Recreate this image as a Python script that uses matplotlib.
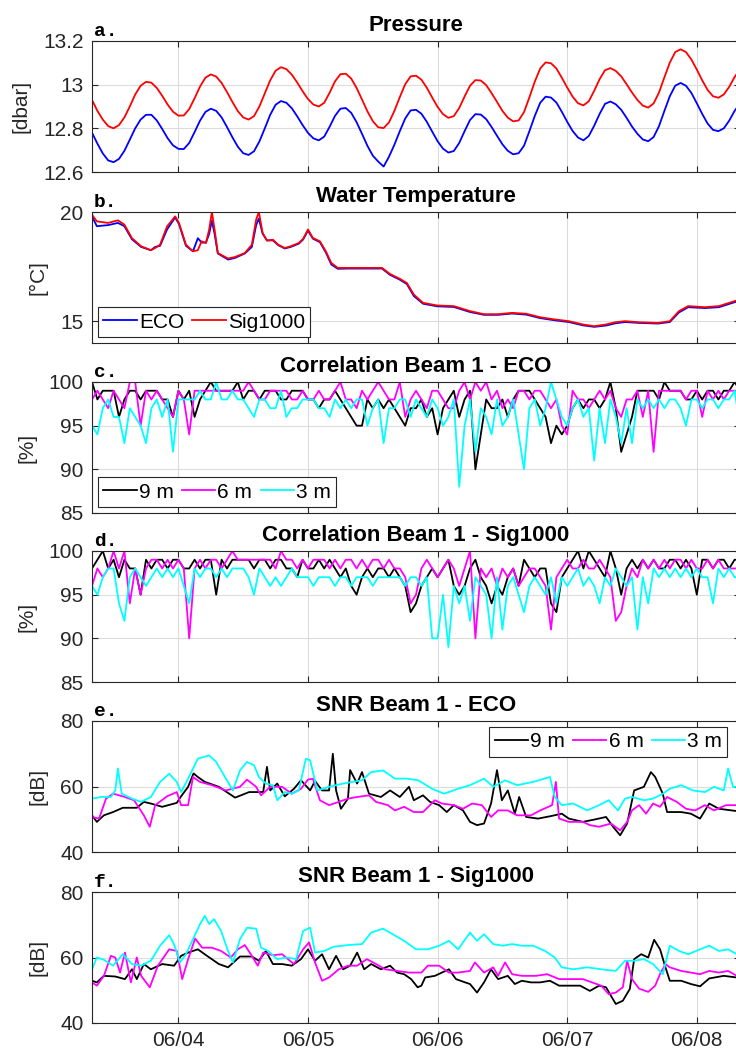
import numpy as np
import matplotlib.pyplot as plt
import matplotlib.dates as mdates

# ---- data ----
start = np.datetime64('2021-06-03T08:00')
hours = np.arange(121)  # hourly samples, 06/03 08:00 -> 06/08 08:00

# a. pressure [dbar]
p_sig = [12.93, 12.88, 12.84, 12.81, 12.80, 12.815, 12.85, 12.90, 12.955, 12.995,
         13.013, 13.009, 12.985, 12.949, 12.909, 12.876, 12.858, 12.859, 12.888, 12.938,
         12.991, 13.032, 13.047, 13.037, 13.008, 12.966, 12.921, 12.879, 12.85, 12.84,
         12.856, 12.90, 12.96, 13.02, 13.064, 13.08, 13.071, 13.046, 13.01, 12.97,
         12.934, 12.909, 12.90, 12.917, 12.963, 13.015, 13.048, 13.05, 13.028, 12.985,
         12.932, 12.878, 12.833, 12.805, 12.801, 12.827, 12.88, 12.943, 13.002, 13.038,
         13.041, 13.023, 12.986, 12.941, 12.898, 12.865, 12.848, 12.856, 12.893, 12.946,
         12.995, 13.021, 13.019, 12.998, 12.961, 12.921, 12.88, 12.849, 12.832, 12.836,
         12.874, 12.942, 13.014, 13.074, 13.102, 13.098, 13.074, 13.032, 12.987, 12.945,
         12.915, 12.905, 12.924, 12.972, 13.025, 13.066, 13.076, 13.063, 13.038, 13.002,
         12.964, 12.93, 12.904, 12.895, 12.914, 12.964, 13.034, 13.101, 13.149, 13.162,
         13.149, 13.115, 13.069, 13.02, 12.976, 12.947, 12.94, 12.955, 12.99, 13.035,
         13.07]
p_eco = [12.78, 12.73, 12.685, 12.653, 12.645, 12.66, 12.697, 12.748, 12.80, 12.84,
         12.862, 12.862, 12.836, 12.797, 12.755, 12.722, 12.706, 12.705, 12.733, 12.783,
         12.835, 12.875, 12.89, 12.88, 12.85, 12.806, 12.759, 12.716, 12.686, 12.678,
         12.695, 12.74, 12.80, 12.862, 12.908, 12.925, 12.917, 12.892, 12.855, 12.815,
         12.779, 12.754, 12.745, 12.762, 12.807, 12.857, 12.89, 12.893, 12.871, 12.828,
         12.775, 12.72, 12.675, 12.648, 12.625, 12.67, 12.725, 12.787, 12.845, 12.882,
         12.885, 12.867, 12.83, 12.785, 12.741, 12.707, 12.689, 12.696, 12.733, 12.787,
         12.838, 12.865, 12.863, 12.842, 12.806, 12.766, 12.727, 12.697, 12.681, 12.686,
         12.72, 12.787, 12.857, 12.917, 12.945, 12.941, 12.918, 12.876, 12.83, 12.788,
         12.758, 12.745, 12.765, 12.812, 12.866, 12.912, 12.923, 12.91, 12.885, 12.848,
         12.808, 12.775, 12.749, 12.741, 12.76, 12.81, 12.88, 12.947, 12.995, 13.008,
         12.995, 12.962, 12.915, 12.866, 12.822, 12.793, 12.787, 12.80, 12.835, 12.88,
         12.915]

# b. water temperature [degC], (hour, value)
t_sig = [(0, 19.88), (0.9, 19.57), (3, 19.5), (4.8, 19.62), (6, 19.42), (7.4, 18.8),
         (9.1, 18.43), (10.9, 18.25), (11.7, 18.35), (12.6, 18.5), (13.9, 19.34), (15.4, 19.8),
         (16.1, 19.5), (17.4, 18.5), (18.7, 18.2), (19.6, 18.25), (20.3, 18.66), (21.1, 18.58),
         (21.7, 19.2), (22.2, 20.0), (22.7, 19.2), (23.3, 18.12), (25.2, 17.87), (26.5, 17.94),
         (28.3, 18.12), (29.6, 18.5), (30.4, 19.65), (30.9, 20.0), (31.6, 19.04), (32.4, 18.69),
         (33.5, 18.73), (34.5, 18.5), (35.7, 18.35), (36.8, 18.43), (38.3, 18.58), (39.1, 18.77),
         (40, 19.2), (40.9, 18.81), (42.2, 18.66), (43.3, 18.2), (44.3, 17.67), (45.5, 17.44),
         (47.4, 17.44), (50.9, 17.44), (53.7, 17.44), (55.2, 17.16), (57, 16.94), (58.3, 16.75),
         (59.6, 16.22), (61.3, 15.84), (63.9, 15.72), (67, 15.69), (70, 15.46), (72.6, 15.32),
         (75.2, 15.32), (77.8, 15.38), (80.4, 15.34), (83, 15.18), (85.7, 15.08), (88.3, 15.0),
         (90.9, 14.85), (93, 14.77), (95.2, 14.85), (96.9, 14.95), (98.7, 15.0), (101.3, 14.95),
         (104.8, 14.92), (107, 15.0), (108.7, 15.46), (110.4, 15.69), (113.5, 15.64),
         (116.1, 15.69), (119.4, 15.95), (120, 16.0)]
t_eco = [(0, 19.8), (0.9, 19.35), (3, 19.4), (4.8, 19.5), (6, 19.35), (7.4, 18.75),
         (9.1, 18.4), (10.9, 18.25), (11.7, 18.4), (12.6, 18.45), (13.9, 19.2), (15.4, 19.75),
         (16.1, 19.45), (17.4, 18.45), (18.7, 18.2), (19.6, 18.8), (20.3, 18.6), (21.1, 18.6),
         (21.7, 19.0), (22.2, 19.6), (22.7, 19.0), (23.3, 18.1), (25.2, 17.82), (26.5, 17.9),
         (28.3, 18.1), (29.6, 18.4), (30.4, 19.4), (30.9, 19.7), (31.6, 19.0), (32.4, 18.7),
         (33.5, 18.7), (34.5, 18.48), (35.7, 18.33), (36.8, 18.4), (38.3, 18.55), (39.1, 18.74),
         (40, 19.15), (40.9, 18.78), (42.2, 18.62), (43.3, 18.15), (44.3, 17.6), (45.5, 17.4),
         (47.4, 17.41), (50.9, 17.41), (53.7, 17.41), (55.2, 17.12), (57, 16.9), (58.3, 16.7),
         (59.6, 16.15), (61.3, 15.8), (63.9, 15.68), (67, 15.65), (70, 15.42), (72.6, 15.29),
         (75.2, 15.29), (77.8, 15.35), (80.4, 15.3), (83, 15.14), (85.7, 15.04), (88.3, 14.96),
         (90.9, 14.81), (93, 14.74), (95.2, 14.8), (96.9, 14.9), (98.7, 14.96), (101.3, 14.92),
         (104.8, 14.89), (107, 14.96), (108.7, 15.4), (110.4, 15.64), (113.5, 15.6),
         (116.1, 15.64), (119.4, 15.9), (120, 15.96)]

# c. correlation beam 1, ECO [%], hourly
c_eco_9 = [100, 98, 99, 99, 99, 96, 98, 99, 99, 98, 99, 99, 99, 98, 98, 96, 99, 98, 99, 96,
           98, 99, 100, 99, 99, 99, 99, 100, 98, 99, 99, 98, 99, 99, 99, 98, 98, 99, 99, 99,
           98, 98, 97, 98, 98, 99, 98, 97, 96, 95, 95, 98, 97, 98, 97, 98, 97, 96, 95, 97,
           97, 98, 96, 97, 94, 97, 98, 99, 96, 98, 99, 90, 94, 98, 97, 97, 98, 96, 98, 99,
           99, 99, 98, 97, 96, 93, 95, 94, 95, 97, 98, 97, 98, 98, 97, 98, 100, 97, 92, 94,
           96, 99, 99, 99, 99, 98, 100, 99, 99, 99, 98, 98, 99, 98, 99, 99, 98, 99, 99, 100, 99]
c_eco_6 = [98, 99, 98, 97, 99, 98, 97, 100, 100, 95, 99, 98, 99, 98, 97, 96, 99, 98, 94, 99,
           99, 99, 99, 99, 99, 99, 99, 99, 99, 100, 99, 98, 98, 99, 99, 99, 99, 98, 98, 99,
           98, 98, 99, 98, 98, 99, 100, 98, 98, 97, 99, 98, 99, 100, 99, 98, 98, 100, 96, 98,
           99, 98, 97, 99, 99, 98, 97, 97, 99, 100, 98, 100, 99, 100, 98, 99, 97, 98, 97, 99,
           99, 98, 99, 99, 98, 97, 98, 95, 94, 99, 98, 98, 97, 98, 99, 98, 99, 97, 96, 98,
           98, 99, 96, 99, 92, 99, 99, 99, 99, 99, 98, 99, 99, 96, 99, 98, 99, 98, 99, 99, 99]
c_eco_3 = [95, 94, 97, 98, 96, 96, 93, 97, 96, 95, 93, 97, 98, 96, 98, 92, 98, 98, 98, 98,
           99, 98, 98, 100, 98, 98, 99, 98, 98, 97, 96, 98, 98, 97, 97, 99, 96, 97, 97, 98,
           98, 98, 97, 97, 96, 98, 97, 98, 97, 98, 98, 95, 97, 98, 93, 97, 97, 98, 98, 96,
           98, 97, 96, 98, 97, 95, 96, 98, 88, 95, 98, 92, 97, 96, 94, 98, 95, 96, 98, 94,
           90, 97, 98, 95, 97, 100, 98, 96, 95, 97, 98, 96, 97, 91, 97, 93, 98, 96, 93, 97,
           93, 98, 97, 98, 97, 98, 97, 98, 98, 97, 95, 98, 98, 97, 98, 98, 97, 98, 98, 99, 95]

# d. correlation beam 1, Sig1000 [%], hourly
c_sig_9 = [98, 99, 100, 98, 99, 97, 99, 98, 98, 95, 99, 98, 99, 99, 98, 99, 99, 98, 98, 99,
           98, 99, 99, 95, 99, 98, 99, 99, 99, 99, 98, 99, 99, 98, 99, 99, 98, 98, 97, 99,
           98, 98, 99, 98, 99, 98, 97, 98, 96, 95, 97, 98, 97, 98, 98, 97, 98, 97, 96, 93,
           94, 96, 97, 98, 97, 98, 99, 96, 95, 96, 98, 99, 97, 96, 94, 96, 95, 97, 98, 96,
           99, 98, 97, 98, 98, 94, 93, 97, 98, 99, 100, 98, 100, 99, 98, 97, 100, 98, 95, 98,
           99, 98, 99, 98, 99, 98, 98, 99, 99, 98, 99, 98, 95, 99, 99, 98, 99, 99, 98, 99, 99]
c_sig_6 = [96, 98, 97, 98, 100, 98, 100, 94, 98, 95, 98, 99, 99, 98, 99, 98, 99, 98, 90, 98,
           99, 98, 99, 99, 98, 99, 100, 99, 99, 99, 99, 99, 99, 99, 98, 100, 99, 99, 98, 99,
           98, 99, 99, 99, 98, 99, 98, 99, 99, 98, 99, 98, 99, 99, 98, 99, 98, 98, 97, 94,
           95, 98, 99, 98, 97, 98, 99, 98, 96, 98, 100, 90, 98, 97, 98, 96, 98, 97, 98, 96,
           97, 98, 98, 97, 96, 91, 97, 98, 99, 98, 98, 99, 98, 98, 99, 98, 97, 92, 93, 96,
           98, 97, 99, 98, 99, 98, 99, 98, 99, 99, 98, 99, 98, 98, 99, 98, 99, 98, 98, 98, 98]
c_sig_3 = [96, 95, 97, 98, 98, 94, 92, 97, 98, 97, 96, 97, 98, 97, 98, 97, 98, 96, 94, 98,
           97, 98, 98, 97, 98, 97, 98, 98, 98, 97, 95, 98, 97, 96, 97, 96, 97, 98, 97, 97,
           97, 96, 97, 97, 97, 96, 97, 97, 96, 97, 97, 97, 96, 97, 97, 97, 97, 97, 96, 97,
           97, 96, 97, 90, 90, 95, 89, 96, 94, 96, 92, 97, 96, 95, 90, 97, 91, 96, 97, 95,
           93, 96, 97, 96, 95, 97, 94, 97, 96, 97, 98, 96, 97, 96, 94, 97, 96, 98, 97, 96,
           97, 91, 97, 94, 98, 97, 98, 97, 98, 97, 98, 97, 98, 97, 97, 94, 98, 97, 98, 97, 97]

# e. SNR beam 1, ECO [dB], (hour, value)
s_eco_9 = [(0, 51.2), (0.9, 49.2), (2.2, 51.2), (3.9, 52.2), (5.7, 53.5), (8.3, 53.5), (9.6, 55.3),
           (10.9, 54.8), (13, 53.8), (15.7, 55.0), (16.5, 57.0), (17.8, 59.9), (18.8, 64.0),
           (19.6, 62.9), (20.9, 61.4), (23.5, 59.9), (26.5, 56.6), (29.1, 58.3), (31.7, 58.3),
           (32.4, 66.0), (33, 58.8), (34.3, 60.9), (35.7, 57.0), (37.4, 59.3), (38.7, 61.9),
           (40.4, 58.8), (41.3, 61.7), (42.6, 58.8), (43.9, 58.8), (44.6, 70.0), (45.2, 58.8),
           (46.1, 53.2), (47.4, 56.3), (47.8, 65.0), (49.1, 60.9), (50, 64.4), (51.3, 57.8),
           (53.5, 56.8), (55.2, 58.8), (57, 56.8), (58.7, 59.9), (59.6, 55.8), (61.3, 57.3),
           (62.6, 55.3), (64.3, 54.3), (65.7, 52.2), (67, 54.3), (68.7, 52.7), (70, 49.2),
           (71.3, 48.2), (72.6, 48.7), (73.9, 54.8), (75, 65.0), (75.9, 55.8), (77, 58.8),
           (78.3, 51.7), (79.1, 56.8), (80.4, 50.7), (82.6, 50.2), (84.8, 50.9), (87, 51.7),
           (88.3, 50.2), (90.9, 49.2), (93, 49.9), (95.2, 50.7), (96.5, 47.7), (97.8, 45.1),
           (99.1, 48.7), (100.4, 58.8), (102.2, 59.9), (103.5, 64.4), (104.3, 62.9),
           (105.7, 57.8), (106.5, 52.2), (109.1, 52.2), (110.9, 51.7), (112.6, 50.2),
           (114.3, 54.8), (116.1, 53.2), (119.4, 52.5), (120, 52.6)]
s_eco_6 = [(0, 50.7), (1.3, 50.2), (2.6, 56.3), (3.9, 57.8), (5.7, 57.0), (7.8, 55.8), (9.6, 51.2),
           (10.7, 47.7), (11.7, 54.3), (13.9, 57.0), (15.7, 58.3), (16.5, 54.3), (17.8, 54.3),
           (18.7, 62.9), (20, 61.4), (22.2, 60.4), (24.8, 58.8), (27.4, 59.9), (28.7, 62.1),
           (30.4, 59.9), (31.3, 57.3), (33, 59.9), (35.2, 59.9), (37, 57.8), (38.7, 59.3),
           (40, 62.1), (40.9, 62.4), (42.2, 55.8), (43.9, 54.3), (45.7, 55.3), (47.4, 56.3),
           (49.1, 56.8), (51.3, 57.3), (52.6, 55.3), (54.8, 54.3), (56.1, 52.7), (57.8, 53.8),
           (59.6, 52.2), (61.3, 52.2), (63.5, 55.8), (64.8, 54.8), (67, 54.3), (68.7, 53.2),
           (70.4, 54.8), (72.2, 54.3), (73.9, 50.7), (75.2, 52.7), (77, 52.7), (78.7, 51.2),
           (81.3, 51.2), (83, 52.7), (85.2, 54.3), (85.9, 61.4), (86.5, 50.2), (88.3, 49.2),
           (90.9, 49.2), (92.2, 48.2), (93.9, 47.7), (96.1, 48.7), (97.8, 46.6), (99.1, 49.2),
           (100, 52.7), (101.3, 54.3), (102.6, 51.7), (103.9, 54.8), (105.2, 53.8),
           (106.5, 56.8), (108.3, 55.3), (110, 53.2), (111.7, 52.7), (113.5, 54.3),
           (115.2, 52.7), (117.4, 54.3), (119.4, 54.3), (120, 54.0)]
s_eco_3 = [(0, 56.3), (1.7, 56.8), (3.5, 56.8), (4.3, 58.8), (4.8, 65.5), (5.5, 57.8), (7.4, 56.3),
           (9.1, 55.3), (10.9, 56.8), (12.6, 61.4), (14.3, 63.9), (15.7, 61.4), (16.5, 58.3),
           (17.8, 62.4), (19.6, 68.5), (21.7, 69.5), (23, 67.5), (24.8, 62.4), (26.1, 58.8),
           (27.4, 64.9), (28.7, 67.5), (30, 66.5), (30.9, 62.9), (32.2, 60.9), (33.5, 60.4),
           (34.3, 55.8), (35.7, 58.3), (37, 57.8), (38.3, 58.8), (39.6, 68.5), (40.4, 68.0),
           (41.7, 58.8), (43.9, 59.9), (46.5, 60.9), (50, 61.9), (51.7, 64.4), (53.9, 64.9),
           (56.1, 62.4), (58.3, 62.4), (60.4, 61.9), (63, 59.3), (65.2, 57.8), (67.8, 59.3),
           (70, 60.4), (72.6, 62.4), (74.3, 59.9), (76.5, 61.9), (78.7, 60.4), (81.7, 61.4),
           (84.8, 62.9), (85.7, 56.8), (87, 54.3), (89.1, 54.8), (91.7, 52.7), (93.9, 54.3),
           (95.7, 55.8), (97.4, 52.7), (98.7, 56.3), (100, 56.8), (102.2, 55.8), (103.9, 56.3),
           (105.7, 57.8), (107, 59.3), (109.1, 60.4), (111.3, 58.8), (113.5, 58.3),
           (115.2, 59.9), (117, 58.8), (117.8, 65.5), (118.7, 59.9), (120, 59.9)]

# f. SNR beam 1, Sig1000 [dB], (hour, value)
s_sig_9 = [(0, 52.9), (0.9, 52.4), (2.2, 54.4), (4.3, 54.2), (6.1, 53.4), (7.4, 56.4), (8.3, 53.4),
           (9.6, 58.0), (10.9, 56.4), (13, 58.0), (15.2, 57.5), (16.5, 60.5), (17.8, 61.5),
           (19.6, 62.5), (21.3, 60.5), (23.5, 58.0), (25.2, 57.0), (27.4, 60.3), (29.6, 60.3),
           (30.9, 59.0), (32.2, 62.0), (33.5, 58.0), (35.2, 58.0), (37, 57.5), (38.7, 59.5),
           (40, 62.5), (41.3, 59.0), (42.6, 61.0), (43.9, 56.4), (45.2, 60.5), (46.5, 56.4),
           (47.8, 57.5), (49.1, 61.5), (50.4, 56.4), (51.7, 58.0), (53.5, 56.4), (55.2, 57.5),
           (56.5, 55.4), (57.8, 54.9), (59.1, 53.4), (60.3, 50.9), (61, 51.4), (61.7, 53.9),
           (63.5, 54.4), (64.8, 55.4), (66.1, 56.4), (67.4, 53.4), (69.1, 52.4), (70, 51.9),
           (71.3, 49.3), (72.6, 52.4), (73.9, 56.4), (75.2, 53.4), (77, 54.4), (78.3, 51.9),
           (79.6, 52.9), (81.3, 52.4), (83, 52.4), (84.8, 52.9), (86.5, 51.4), (88.3, 51.4),
           (90.4, 51.4), (92.2, 49.8), (93.9, 51.4), (95.2, 50.9), (96.1, 48.3), (97, 45.8),
           (98.3, 46.8), (99.6, 50.4), (100.4, 59.5), (101.7, 61.0), (103, 60.0), (104.1, 65.4),
           (105.2, 62.5), (106.1, 57.5), (107, 52.9), (109.1, 52.9), (110.9, 51.9),
           (112.6, 51.2), (114.3, 53.6), (117, 54.4), (119.4, 53.9), (120, 54.0)]
s_sig_6 = [(0, 52.4), (0.9, 51.4), (2.2, 54.4), (3.5, 60.5), (4.3, 60.0), (5.2, 55.4), (6.1, 61.5),
           (7.2, 52.4), (8.3, 60.0), (9.1, 54.4), (10.7, 50.9), (12.2, 57.5), (14.3, 62.5),
           (15.7, 62.0), (16.7, 53.4), (17.8, 59.5), (19.1, 65.8), (20.4, 63.0), (22.2, 63.0),
           (23.9, 62.0), (25.7, 60.0), (27, 62.5), (28.3, 63.8), (29.6, 60.5), (30.7, 57.5),
           (31.7, 61.5), (33.5, 60.7), (35.2, 61.0), (37.4, 58.0), (39.1, 62.5), (40.2, 64.6),
           (41.3, 58.5), (42.6, 52.9), (43.9, 53.9), (45.7, 56.4), (47.4, 57.5), (49.1, 57.5),
           (50.9, 59.5), (52.6, 58.0), (54.3, 56.4), (56.5, 55.9), (58.7, 55.4), (61, 55.4),
           (62.2, 57.5), (64.3, 57.5), (66.1, 55.4), (67.8, 55.4), (70, 55.9), (70.9, 58.5),
           (72.6, 55.4), (74.3, 57.0), (75.2, 54.4), (76.5, 58.5), (77.8, 54.9), (79.6, 54.4),
           (82.2, 54.4), (84.3, 54.9), (86.5, 53.4), (88.7, 53.4), (90.9, 53.4), (92.6, 52.4),
           (94.3, 51.4), (95.7, 48.8), (97, 49.3), (98.3, 50.9), (99.1, 59.0), (100, 53.4),
           (101.3, 50.5), (103, 49.5), (104.3, 51.4), (105.2, 55.0), (106.2, 58.0), (107, 57.0),
           (109.1, 55.9), (110.9, 55.4), (112.6, 54.9), (114.3, 55.9), (116.1, 55.4),
           (117.8, 55.9), (119.4, 54.4), (120, 54.2)]
s_sig_3 = [(0, 56.4), (0.9, 60.0), (2.2, 59.3), (3.9, 57.5), (5.7, 61.0), (7.4, 58.0), (9.1, 57.5),
           (10.9, 59.0), (12.6, 63.6), (14.3, 66.8), (15.2, 64.0), (16.3, 58.5), (17.4, 61.0),
           (18.7, 65.6), (20, 70.2), (20.9, 72.7), (21.7, 70.2), (22.6, 71.7), (23.9, 68.1),
           (25.2, 62.0), (26.1, 58.5), (27.4, 65.6), (28.7, 69.1), (30.4, 68.8), (31.3, 63.0),
           (32.6, 62.0), (34.3, 59.5), (36.1, 60.0), (37.8, 59.5), (39.1, 68.1), (40.4, 69.1),
           (41.3, 61.5), (43, 62.0), (44.8, 63.3), (47.4, 63.8), (50, 64.1), (51.7, 67.6),
           (53.9, 68.8), (55.7, 67.1), (57.8, 65.1), (60, 62.5), (62.2, 62.5), (64.3, 63.6),
           (66.1, 65.1), (67.8, 62.5), (70, 67.6), (71.3, 65.1), (72.6, 67.1), (74.3, 64.1),
           (76.1, 63.6), (77.8, 64.1), (79.6, 63.6), (81.7, 63.6), (83.9, 62.0), (85.7, 60.0),
           (87, 57.0), (89.1, 56.4), (91.7, 57.0), (94.3, 56.4), (97, 55.9), (98.7, 59.0),
           (100.4, 59.0), (102.2, 59.5), (103.9, 58.0), (105.7, 54.9), (107, 63.6),
           (108.7, 62.0), (110.4, 61.0), (112.6, 62.5), (114.3, 63.6), (116.1, 62.0),
           (117.8, 62.5), (119.4, 61.0), (120, 61.0)]

titles = ['Pressure', 'Water Temperature', 'Correlation Beam 1 - ECO',
          'Correlation Beam 1 - Sig1000', 'SNR Beam 1 - ECO', 'SNR Beam 1 - Sig1000']
letters = ['a.', 'b.', 'c.', 'd.', 'e.', 'f.']
ylabels = ['[dbar]', '[°C]', '[%]', '[%]', '[dB]', '[dB]']
yticks = [[12.6, 12.8, 13.0, 13.2], [15, 20], [85, 90, 95, 100], [85, 90, 95, 100],
          [40, 60, 80], [40, 60, 80]]
yticklabels = [['12.6', '12.8', '13', '13.2'], ['15', '20'], ['85', '90', '95', '100'],
               ['85', '90', '95', '100'], ['40', '60', '80'], ['40', '60', '80']]
ylims = [(12.6, 13.2), (14, 20), (85, 100), (85, 100), (40, 80), (40, 80)]
depth_labels = ['9 m', '6 m', '3 m']
depth_colors = ['black', 'magenta', 'cyan']


def when(h):
    return start + (np.asarray(h, dtype=float) * 60).round().astype('timedelta64[m]')


def pairs(series):
    h, v = zip(*series)
    return when(h), np.array(v)


plt.rcParams['font.family'] = ['Liberation Sans', 'DejaVu Sans']
fig = plt.figure(figsize=(7.36, 10.57), dpi=100)
W, H = 736.0, 1057.0
tops = [41, 212, 382, 551, 721, 892]
axes = []
for top in tops:
    ax = fig.add_axes([92 / W, 1 - (top + 131) / H, 648 / W, 131 / H])
    axes.append(ax)

t_hourly = when(hours)
lw = 1.3

ax = axes[0]
ax.plot(t_hourly, p_eco, color='blue', lw=lw)
ax.plot(t_hourly, p_sig, color='red', lw=lw)

ax = axes[1]
ax.plot(*pairs(t_eco), color='blue', lw=lw, label='ECO')
ax.plot(*pairs(t_sig), color='red', lw=lw, label='Sig1000')

for ax, group in [(axes[2], [c_eco_9, c_eco_6, c_eco_3]), (axes[3], [c_sig_9, c_sig_6, c_sig_3])]:
    for vals, col, lab in zip(group, depth_colors, depth_labels):
        ax.plot(t_hourly, vals, color=col, lw=lw, label=lab)

for ax, group in [(axes[4], [s_eco_9, s_eco_6, s_eco_3]), (axes[5], [s_sig_9, s_sig_6, s_sig_3])]:
    for vals, col, lab in zip(group, depth_colors, depth_labels):
        ax.plot(*pairs(vals), color=col, lw=lw, label=lab)

xmin, xmax = when(0), when(120)
for i, ax in enumerate(axes):
    ax.set_xlim(xmin, xmax)
    ax.set_ylim(*ylims[i])
    ax.set_yticks(yticks[i])
    ax.set_yticklabels(yticklabels[i])
    ax.xaxis.set_major_locator(mdates.DayLocator())
    ax.xaxis.set_major_formatter(mdates.DateFormatter('%m/%d'))
    ax.grid(True, color='#dcdcdc', lw=0.8)
    ax.set_axisbelow(True)
    ax.tick_params(direction='in', length=4, width=0.8, top=True, right=True,
                   labelsize=15, colors='#262626', pad=6)
    for s in ax.spines.values():
        s.set_color('#262626')
        s.set_linewidth(0.8)
    if i < 5:
        ax.tick_params(labelbottom=False)
    ax.set_title(titles[i], fontsize=16, fontweight='bold', pad=7)
    ax.set_ylabel(ylabels[i], fontsize=15, color='#262626', labelpad=9)
    ax.text(0.003, 1.005, letters[i], transform=ax.transAxes, ha='left', va='bottom',
            family='Liberation Mono', fontweight='bold', fontsize=14)

leg_kw = dict(fontsize=15, frameon=True, fancybox=False, framealpha=1, edgecolor='#262626',
              handlelength=1.6, handletextpad=0.1, borderpad=0.25, borderaxespad=0.3,
              columnspacing=0.4)
lg = axes[1].legend(loc='lower left', ncol=2, **leg_kw)
lg.get_frame().set_linewidth(0.8)
lg = axes[2].legend(loc='lower left', ncol=3, **leg_kw)
lg.get_frame().set_linewidth(0.8)
lg = axes[4].legend(loc='upper right', ncol=3, bbox_to_anchor=(0.99, 1.0), **leg_kw)
lg.get_frame().set_linewidth(0.8)

fig.savefig('out.png', dpi=100)
